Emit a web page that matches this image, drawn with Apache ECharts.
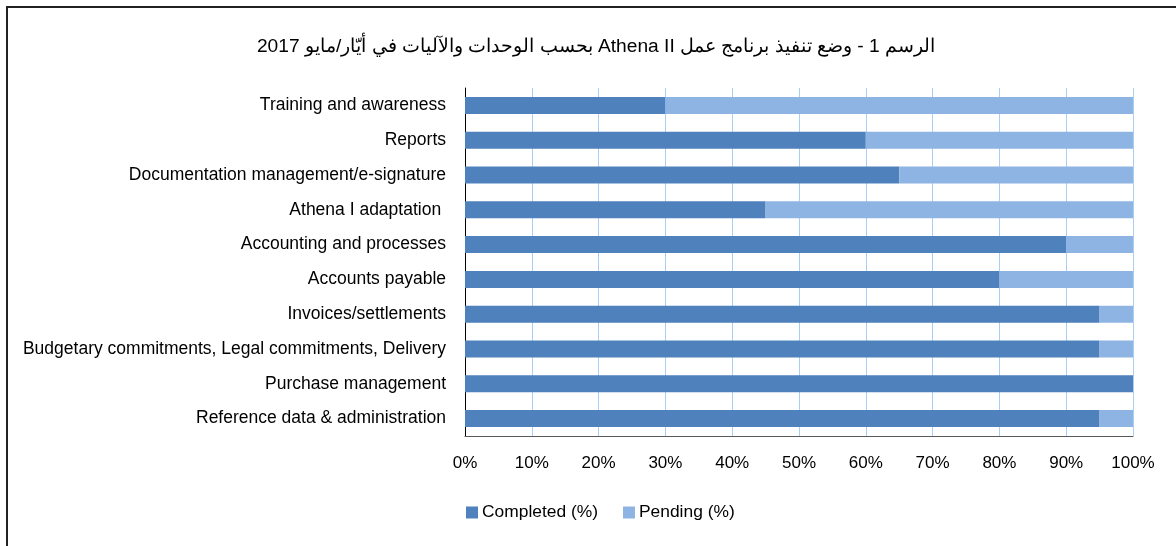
<!DOCTYPE html>
<html>
<head>
<meta charset="utf-8">
<script src="https://cdn.jsdelivr.net/npm/echarts@6/dist/echarts.min.js"></script>
<style>
  html, body { margin: 0; padding: 0; background: #fff; }
  #chart { width: 1176px; height: 546px; }
</style>
</head>
<body>
<div id="chart"></div>
<script>
// rows, top to bottom as in the picture
const categories = [
  'Training and awareness',
  'Reports',
  'Documentation management/e-signature',
  'Athena I adaptation ',
  'Accounting and processes',
  'Accounts payable',
  'Invoices/settlements',
  'Budgetary commitments, Legal commitments, Delivery',
  'Purchase management',
  'Reference data & administration'
];
const completed = [30, 60, 65, 45, 90, 80, 95, 95, 100, 95];
const pending = [70, 40, 35, 55, 10, 20, 5, 5, 0, 5];
const xTicks = [0, 10, 20, 30, 40, 50, 60, 70, 80, 90, 100];

const FONT = '"Liberation Sans", Arial, sans-serif';
const chart = echarts.init(document.getElementById('chart'));

// RLE ... PDF so the mixed Arabic/Latin title keeps right-to-left order on the canvas
const titleText = '\u202B' + 'الرسم 1 - وضع تنفيذ برنامج عمل Athena II بحسب الوحدات والآليات في أيّار/مايو 2017' + '\u202C';

const option = {
  animation: false,
  textStyle: { fontFamily: FONT },
  title: {
    text: titleText,
    left: 591,
    textAlign: 'center',
    top: 32,
    textStyle: { fontFamily: FONT, fontSize: 19.2, fontWeight: 'normal', color: '#000' }
  },
  legend: {
    data: ['Completed (%)', 'Pending (%)'],
    top: 499,
    left: 461,
    icon: 'rect',
    itemWidth: 12,
    itemHeight: 12,
    itemGap: 25,
    textStyle: { fontFamily: FONT, fontSize: 17.4, color: '#000', padding: [0, 0, 0, -1] }
  },
  grid: { left: 465, right: 43, top: 88, bottom: 110, outerBoundsMode: 'none' },
  xAxis: {
    type: 'value',
    min: 0,
    max: 100,
    interval: 10,
    axisLine: { show: true, lineStyle: { color: '#595959', width: 1 } },
    axisTick: { show: false },
    axisLabel: {
      margin: 19,
      fontSize: 17,
      color: '#000',
      fontFamily: FONT,
      formatter: v => (xTicks.includes(v) ? v + '%' : '')
    },
    splitLine: { show: true, lineStyle: { color: '#a9cff5', width: 1 } }
  },
  yAxis: {
    type: 'category',
    data: categories,
    inverse: true,
    axisLine: { show: true, lineStyle: { color: '#000', width: 1 } },
    axisTick: { show: false },
    axisLabel: { margin: 19, fontSize: 17.5, color: '#000', fontFamily: FONT }
  },
  series: [
    {
      name: 'Completed (%)',
      type: 'bar',
      stack: 'total',
      data: completed,
      barWidth: 17,
      itemStyle: { color: '#4f81bd' }
    },
    {
      name: 'Pending (%)',
      type: 'bar',
      stack: 'total',
      data: pending,
      barWidth: 17,
      itemStyle: { color: '#8eb4e3' }
    }
  ],
  graphic: [
    {
      type: 'polyline',
      shape: { points: [[7, 546], [7, 7], [1176, 7]] },
      style: { stroke: '#222', lineWidth: 2, fill: null },
      silent: true
    }
  ]
};

chart.setOption(option);
</script>
</body>
</html>
